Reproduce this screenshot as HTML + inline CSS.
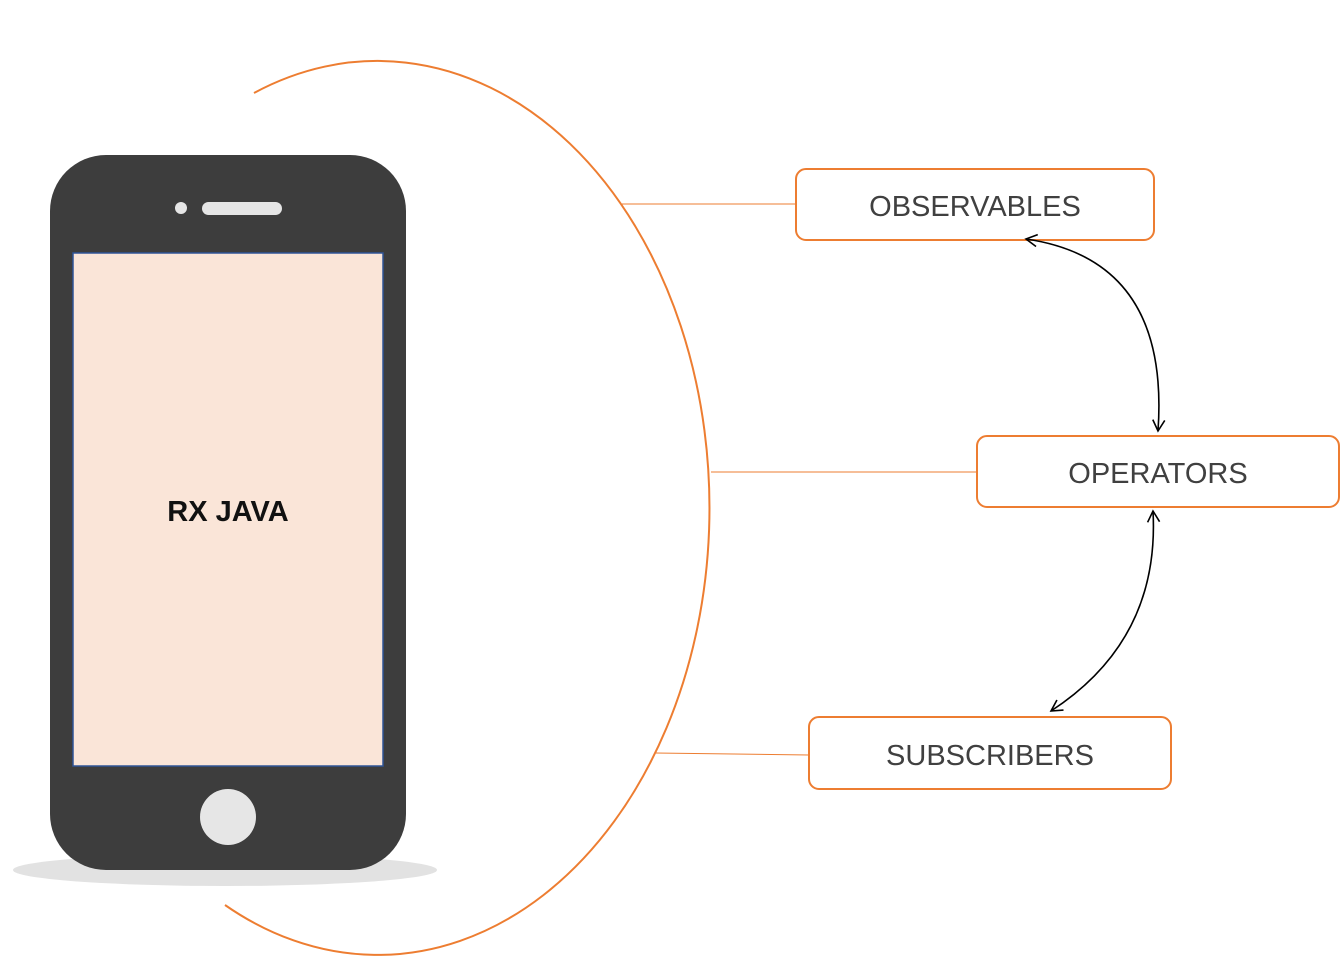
<!DOCTYPE html>
<html><head><meta charset="utf-8"><style>
html,body{margin:0;padding:0;background:#fff;}
svg{display:block;}
</style></head><body>
<svg width="1341" height="956" viewBox="0 0 1341 956" xmlns="http://www.w3.org/2000/svg">
<defs>
<marker id="ah" markerWidth="14" markerHeight="14" refX="12" refY="7" orient="auto-start-reverse" markerUnits="userSpaceOnUse">
<path d="M1,1 L12,7 L1,13" fill="none" stroke="#000" stroke-width="1.6"/>
</marker>
</defs>
<ellipse cx="225" cy="870" rx="212" ry="16" fill="#e2e2e2"/>
<rect x="50" y="155" width="356" height="715" rx="56" fill="#3d3d3d"/>
<rect x="73" y="253" width="310" height="513" fill="#fae5d8" stroke="#2f5597" stroke-width="1.5"/>
<circle cx="181" cy="208" r="6" fill="#e6e6e6"/>
<rect x="202" y="202" width="80" height="13" rx="6.5" fill="#e6e6e6"/>
<circle cx="228" cy="817" r="28" fill="#e6e6e6"/>
<text x="228" y="521" font-family="Liberation Sans, sans-serif" font-weight="bold" font-size="29" text-anchor="middle" fill="#111">RX JAVA</text>
<path d="M254,93 A332,447 0 1 1 225,905" fill="none" stroke="#ed7d31" stroke-width="2"/>
<line x1="622" y1="204" x2="796" y2="204" stroke="#ed7d31" stroke-width="1"/>
<line x1="711" y1="472" x2="977" y2="472" stroke="#ed7d31" stroke-width="1"/>
<line x1="655" y1="753" x2="809" y2="755" stroke="#ed7d31" stroke-width="1"/>
<rect x="796" y="169" width="358" height="71" rx="10" fill="#fff" stroke="#ed7d31" stroke-width="2"/>
<rect x="977" y="436" width="362" height="71" rx="10" fill="#fff" stroke="#ed7d31" stroke-width="2"/>
<rect x="809" y="717" width="362" height="72" rx="10" fill="#fff" stroke="#ed7d31" stroke-width="2"/>
<g font-family="Liberation Sans, sans-serif" font-size="29" fill="#404040" text-anchor="middle">
<text x="975" y="216">OBSERVABLES</text>
<text x="1158" y="483">OPERATORS</text>
<text x="990" y="765">SUBSCRIBERS</text>
</g>
<path d="M1026,239 Q1170,260 1158,431" fill="none" stroke="#000" stroke-width="1.6" marker-start="url(#ah)" marker-end="url(#ah)"/>
<path d="M1153,511 Q1160,640 1051,711" fill="none" stroke="#000" stroke-width="1.6" marker-start="url(#ah)" marker-end="url(#ah)"/>
</svg>
</body></html>
